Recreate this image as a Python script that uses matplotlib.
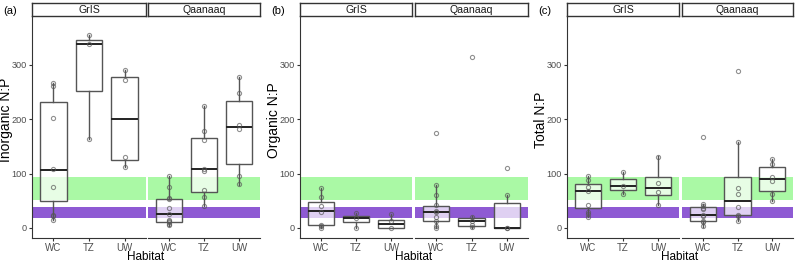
import matplotlib.pyplot as plt

plt.rcParams['font.family'] = ['Liberation Sans', 'DejaVu Sans']

habitats = ['WC', 'TZ', 'UW']
sites = ['GrIS', 'Qaanaaq']
panel_tags = ['(a)', '(b)', '(c)']
ylabels = ['Inorganic N:P', 'Organic N:P', 'Total N:P']

# reference bands (N:P ratio)
green_band = (52, 93)
purple_band = (18, 38)

# box stats per habitat: (whisker low, Q1, median, Q3, whisker high)
inorg_gris_box = [(15, 49, 106, 231, 266), (164, 252, 339, 346, 355), (112, 125, 201, 277, 290)]
inorg_qaan_box = [(4, 10, 25, 54, 96), (40, 66, 108, 166, 225), (79, 118, 185, 234, 277)]
org_gris_box = [(0, 5, 32, 48, 73), (0, 10, 18, 22, 27), (0, 0, 7, 15, 25)]
org_qaan_box = [(0, 13, 30, 41, 79), (0, 4, 12, 18, 22), (0, 0, 0, 45, 61)]
tot_gris_box = [(20, 37, 67, 80, 96), (62, 69, 77, 90, 103), (43, 61, 73, 93, 132)]
tot_qaan_box = [(1, 12, 23, 39, 44), (12, 24, 50, 94, 159), (50, 68, 90, 112, 126)]

# individual samples
inorg_gris_pts = [[266, 262, 202, 109, 75, 24, 21, 15], [355, 338, 164], [290, 273, 130, 112]]
inorg_qaan_pts = [[96, 75, 55, 53, 36, 26, 14, 12, 10, 8, 5],
                  [225, 178, 161, 108, 105, 70, 57, 40],
                  [277, 248, 190, 182, 96, 80]]
org_gris_pts = [[73, 57, 40, 30, 5, 3, 0], [27, 19, 0], [25, 13, 0]]
org_qaan_pts = [[174, 79, 61, 42, 32, 29, 20, 12, 3, 0], [315, 20, 13, 5, 1], [111, 61, 0, 0]]
tot_gris_pts = [[95, 88, 75, 68, 43, 30, 26, 20], [103, 77, 62], [130, 82, 66, 43]]
tot_qaan_pts = [[168, 44, 40, 37, 34, 23, 21, 13, 10, 3],
                [289, 159, 73, 63, 39, 24, 21, 12],
                [126, 118, 93, 87, 63, 50]]

panels = [
    [(inorg_gris_box, inorg_gris_pts), (inorg_qaan_box, inorg_qaan_pts)],
    [(org_gris_box, org_gris_pts), (org_qaan_box, org_qaan_pts)],
    [(tot_gris_box, tot_gris_pts), (tot_qaan_box, tot_qaan_pts)],
]

W, H = 799, 264
fig = plt.figure(figsize=(W / 100, H / 100), dpi=100)

# facet pixel extents
facet_x = [[(32, 146), (148, 260)], [(300, 412), (415, 528)], [(567, 679), (682, 793)]]
y_top, y_bot = 16, 238
strip_top = 3

grey = '#4d4d4d'

for p in range(3):
    for s in range(2):
        x0, x1 = facet_x[p][s]
        ax = fig.add_axes([x0 / W, 1 - y_bot / H, (x1 - x0) / W, (y_bot - y_top) / H])
        ax.set_xlim(0.4, 3.6)
        ax.set_ylim(-18.6, 390)
        ax.axhspan(*green_band, color='#aaf9a5', lw=0, zorder=0)
        ax.axhspan(*purple_band, color='#8e5ad3', lw=0, zorder=0)

        boxes, pts = panels[p][s]
        stats = [dict(whislo=b[0], q1=b[1], med=b[2], q3=b[3], whishi=b[4], fliers=[])
                 for b in boxes]
        ax.bxp(stats, positions=[1, 2, 3], widths=0.75, patch_artist=True, showfliers=False,
               showcaps=False,
               boxprops=dict(facecolor=(1, 1, 1, 0.72), edgecolor='#555555', lw=1.0),
               whiskerprops=dict(color='#555555', lw=1.0),
               medianprops=dict(color='#222222', lw=1.4),
               zorder=2)
        for i, vals in enumerate(pts):
            ax.plot([i + 1] * len(vals), vals, 'o', ms=3.0, mfc='none', mec='#555555',
                    mew=0.8, alpha=0.65, zorder=3)

        ax.set_xticks([1, 2, 3])
        ax.set_xticklabels(habitats, fontsize=7, color=grey)
        ax.tick_params(axis='both', length=2.5, width=0.8, color='#333333', pad=1.2)
        for side in ['top', 'right']:
            ax.spines[side].set_visible(False)
        ax.spines['bottom'].set_color('#333333')
        ax.spines['left'].set_color('#333333')
        if s == 0:
            ax.set_yticks([0, 100, 200, 300])
            ax.set_yticklabels(['0', '100', '200', '300'], fontsize=6.6, color=grey)
            ax.set_ylabel(ylabels[p], fontsize=10, va='center')
            ax.yaxis.set_label_coords((x0 - 26) / W, 1 - 120 / H, transform=fig.transFigure)
        else:
            ax.spines['left'].set_visible(False)
            ax.set_yticks([])

        # facet strip
        sax = fig.add_axes([x0 / W, 1 - y_top / H, (x1 - x0) / W, (y_top - strip_top) / H])
        sax.set_xticks([])
        sax.set_yticks([])
        for sp in sax.spines.values():
            sp.set_color('#333333')
            sp.set_linewidth(1.0)
        sax.text(0.5, 0.45, sites[s], ha='center', va='center', fontsize=7.6,
                 color='#1a1a1a', transform=sax.transAxes)

    # x axis title centred under the panel
    xc = (facet_x[p][0][0] + facet_x[p][1][1]) / 2
    fig.text(xc / W, 1 - 257 / H, 'Habitat', ha='center', va='center', fontsize=8.5)
    fig.text((facet_x[p][0][0] - 29) / W, 1 - 11 / H, panel_tags[p], ha='left', va='center',
             fontsize=8)

fig.savefig('out.png', dpi=100)
